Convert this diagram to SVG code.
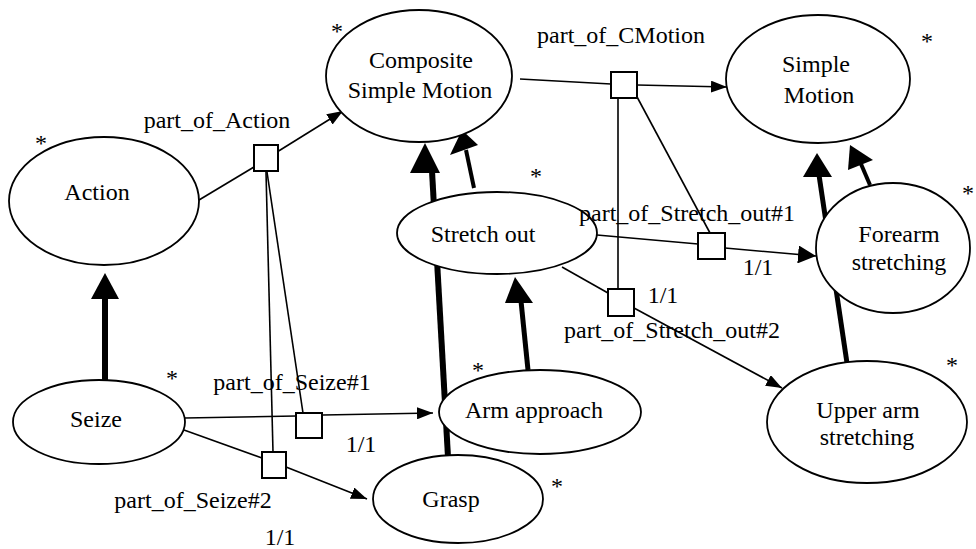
<svg xmlns="http://www.w3.org/2000/svg" width="976" height="549" viewBox="0 0 976 549">
<defs>
<style>
text{font-family:"Liberation Serif","Times New Roman","DejaVu Serif",serif;font-size:24px;fill:#000;text-anchor:middle}
.n{fill:#fff;stroke:#000;stroke-width:1.8}
.b{fill:#fff;stroke:#000;stroke-width:2}
.l{stroke:#000;stroke-width:1.6;fill:none}
.a{stroke:#000;stroke-width:1.6;fill:none;marker-end:url(#ah)}
.t{stroke:#000;fill:none}
.h{fill:#000}
</style>
<marker id="ah" markerUnits="userSpaceOnUse" markerWidth="16" markerHeight="12" refX="16" refY="6" orient="auto">
<path d="M0,0 L16,6 L0,12 z" fill="#000"/>
</marker>
<marker id="ah2" markerUnits="userSpaceOnUse" markerWidth="18" markerHeight="18" refX="18" refY="9" orient="auto">
<path d="M0,0 L18,9 L0,18 z" fill="#000"/>
</marker>
</defs>
<rect width="976" height="549" fill="#fff"/>
<g id="connectors">
<line class="l" x1="199" y1="200" x2="254" y2="167"/>
<line class="a" x1="277" y1="152" x2="343" y2="111"/>
<line class="l" x1="266" y1="172" x2="273" y2="452"/>
<line class="l" x1="267" y1="172" x2="303" y2="413"/>
<line class="l" x1="185" y1="418" x2="296" y2="416"/>
<line class="a" x1="323" y1="415" x2="433" y2="413"/>
<line class="l" x1="184" y1="430" x2="262" y2="458"/>
<line class="a" x1="286" y1="467" x2="367" y2="499"/>
<line class="l" x1="520" y1="79" x2="611" y2="84"/>
<line class="a" x1="637" y1="85" x2="727" y2="87"/>
<line class="l" x1="618" y1="98" x2="618" y2="289"/>
<line class="l" x1="636" y1="95" x2="710" y2="233"/>
<line class="l" x1="597" y1="235" x2="698" y2="244"/>
<line class="l" x1="725" y1="248" x2="816" y2="256" style="marker-end:url(#ah2)"/>
<line class="l" x1="562" y1="267" x2="608" y2="293"/>
<line class="a" x1="634" y1="308" x2="782" y2="388"/>
<line class="t" stroke-width="6" x1="105" y1="380" x2="105" y2="297"/>
<polygon class="h" points="105,273 91,299 119,299"/>
<line class="t" stroke-width="6" x1="448" y1="457" x2="432" y2="171"/>
<polygon class="h" points="425,143 410,173 440,173"/>
<line class="t" stroke-width="4" x1="474" y1="188" x2="466" y2="150"/>
<polygon class="h" points="462,130 450,155 478,145"/>
<line class="t" stroke-width="5" x1="528" y1="370" x2="521" y2="301"/>
<polygon class="h" points="515,277 505,303 533,303"/>
<line class="t" stroke-width="5" x1="847" y1="363" x2="819" y2="175"/>
<polygon class="h" points="817,153 803,177 832,177"/>
<line class="t" stroke-width="4" x1="870" y1="185" x2="861" y2="164"/>
<polygon class="h" points="850,145 848,170 873,160"/>
</g>
<g font-family="Liberation Serif, DejaVu Serif, serif" font-size="24" text-anchor="middle">
<g id="node-composite">
<ellipse class="n" cx="419" cy="76" rx="93" ry="66"/>
<text x="421" y="68">Composite</text>
<text x="420" y="98">Simple Motion</text>
<text x="337" y="39">*</text>
</g>
<g id="node-action">
<ellipse class="n" cx="104" cy="201" rx="95" ry="64"/>
<text x="97" y="200">Action</text>
<text x="41" y="151">*</text>
</g>
<g id="node-simple-motion">
<ellipse class="n" cx="818" cy="79" rx="92" ry="64"/>
<text x="816" y="72">Simple</text>
<text x="819" y="103">Motion</text>
<text x="927" y="49">*</text>
</g>
<g id="node-stretch-out">
<ellipse class="n" cx="497" cy="233" rx="100" ry="41"/>
<text x="483" y="242">Stretch out</text>
<text x="536" y="184">*</text>
</g>
<g id="node-forearm">
<ellipse class="n" cx="893" cy="248" rx="77" ry="65"/>
<text x="899" y="242">Forearm</text>
<text x="899" y="270">stretching</text>
<text x="968" y="201">*</text>
</g>
<g id="node-arm-approach">
<ellipse class="n" cx="540" cy="412" rx="101" ry="42"/>
<text x="534" y="418">Arm approach</text>
<text x="478" y="378">*</text>
</g>
<g id="node-grasp">
<ellipse class="n" cx="458" cy="499" rx="85" ry="44"/>
<text x="451" y="507">Grasp</text>
<text x="557" y="494">*</text>
</g>
<g id="node-seize">
<ellipse class="n" cx="99" cy="422" rx="86" ry="42"/>
<text x="96" y="427">Seize</text>
<text x="172" y="386">*</text>
</g>
<g id="node-upper-arm">
<ellipse class="n" cx="867" cy="422" rx="100" ry="61"/>
<text x="868" y="418">Upper arm</text>
<text x="867" y="445">stretching</text>
<text x="952" y="373">*</text>
</g>
<g id="rel-part-of-action">
<rect class="b" x="254" y="145" width="24" height="26"/>
<text x="217" y="128">part_of_Action</text>
</g>
<g id="rel-part-of-seize1">
<rect class="b" x="296" y="413" width="26" height="25"/>
<text x="292" y="390">part_of_Seize#1</text>
<text x="361" y="452">1/1</text>
</g>
<g id="rel-part-of-seize2">
<rect class="b" x="262" y="452" width="24" height="26"/>
<text x="193" y="508">part_of_Seize#2</text>
<text x="280" y="545">1/1</text>
</g>
<g id="rel-part-of-cmotion">
<rect class="b" x="611" y="72" width="26" height="26"/>
<text x="621" y="43">part_of_CMotion</text>
</g>
<g id="rel-part-of-stretch-out1">
<rect class="b" x="698" y="233" width="27" height="26"/>
<text x="687" y="221">part_of_Stretch_out#1</text>
<text x="758" y="275">1/1</text>
</g>
<g id="rel-part-of-stretch-out2">
<rect class="b" x="608" y="289" width="26" height="27"/>
<text x="672" y="338">part_of_Stretch_out#2</text>
<text x="663" y="303">1/1</text>
</g>
</g>
</svg>
